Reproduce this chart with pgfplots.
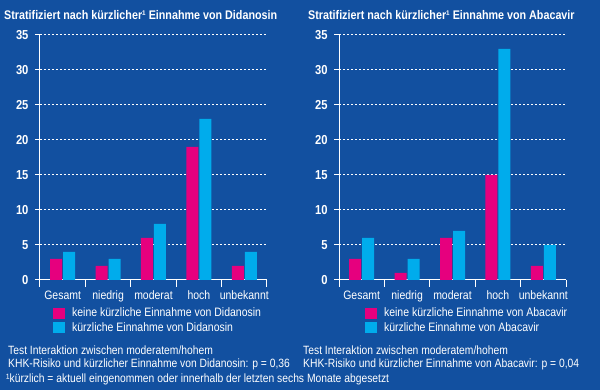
\documentclass[border=0pt]{standalone}
\usepackage{fontspec}
\setmainfont{Liberation Sans}[FakeStretch=0.86]
\usepackage{pgfplots}
\pgfplotsset{compat=1.18}
\definecolor{bg}{RGB}{18,80,160}
\definecolor{pinkc}{RGB}{230,0,126}
\definecolor{cyanc}{RGB}{0,172,236}
\newcommand{\lfont}{\fontsize{12.2}{13}\selectfont}
\newcommand{\ffont}{\fontsize{12}{13}\selectfont}
\pgfplotsset{
  panel/.style={
    scale only axis, width=227pt, height=245pt, anchor=south west,
    ymin=0, ymax=35, xmin=-0.5, xmax=4.5,
    axis x line*=bottom, axis y line*=left,
    axis line style={white, line width=1pt, -},
    ytick={0,5,...,35}, xtick={0,...,4},
    xticklabels={Gesamt,niedrig,moderat,hoch,unbekannt},
    minor xtick={-0.5,0.5,...,4.5},
    tick align=outside, major tick length=5pt, minor tick length=7pt,
    tick style={white, line width=1pt},
    major x tick style={draw=none},
    ymajorgrids, grid style={white, line width=1pt, dash pattern=on 1.6pt off 2.4pt},
    ticklabel style={text=white, font=\lfont},
    /pgf/number format/assume math mode=true,
    yticklabel style={font=\fontsize{13}{14}\selectfont\bfseries, xshift=-3pt},
    xticklabel style={yshift=-2pt},
    ybar, bar width=12pt,
    legend cell align=left,
    legend style={draw=none, fill=none, text=white, font=\lfont, row sep=0pt,
      anchor=north west, inner sep=0pt,
      /tikz/every odd column/.append style={column sep=5pt}},
  }
}
\begin{document}
\begin{tikzpicture}
\path[use as bounding box] (0,0) rectangle (600pt,390pt);
\fill[bg] (0,0) rectangle (600pt,390pt);
\node[anchor=base west, text=white, font=\fontsize{12.5}{14}\selectfont\bfseries, inner sep=0pt] at (4pt,370pt) {Stratifiziert nach kürzlicher¹ Einnahme von Didanosin};
\node[anchor=base west, text=white, font=\fontsize{12.5}{14}\selectfont\bfseries, inner sep=0pt] at (308pt,370pt) {Stratifiziert nach kürzlicher¹ Einnahme von Abacavir};
\begin{axis}[panel, at={(40pt,110pt)}, legend style={at={(0.057,-0.105)}}]
\addplot[fill=pinkc, draw=none, bar shift=-6.5pt, legend image code/.code={\fill[pinkc] (0pt,-5.5pt) rectangle (12pt,5.5pt);}] coordinates {(0,3) (1,2) (2,6) (3,19) (4,2)};
\addplot[fill=cyanc, draw=none, bar shift=6.5pt, legend image code/.code={\fill[cyanc] (0pt,-5.5pt) rectangle (12pt,5.5pt);}] coordinates {(0,4) (1,3) (2,8) (3,23) (4,4)};
\legend{keine kürzliche Einnahme von Didanosin, kürzliche Einnahme von Didanosin}
\end{axis}
\begin{axis}[panel, at={(339pt,110pt)}, legend style={at={(0.114,-0.105)}}]
\addplot[fill=pinkc, draw=none, bar shift=-6.5pt, legend image code/.code={\fill[pinkc] (0pt,-5.5pt) rectangle (12pt,5.5pt);}] coordinates {(0,3) (1,1) (2,6) (3,15) (4,2)};
\addplot[fill=cyanc, draw=none, bar shift=6.5pt, legend image code/.code={\fill[cyanc] (0pt,-5.5pt) rectangle (12pt,5.5pt);}] coordinates {(0,6) (1,3) (2,7) (3,33) (4,5)};
\legend{keine kürzliche Einnahme von Abacavir, kürzliche Einnahme von Abacavir}
\end{axis}
\begin{scope}[every node/.style={anchor=base west, text=white, font=\ffont, inner sep=0pt}]
\node at (8pt,35pt) {Test Interaktion zwischen moderatem/hohem};
\node at (8pt,22pt) {KHK-Risiko und kürzlicher Einnahme von Didanosin: p = 0,36};
\node at (303pt,35pt) {Test Interaktion zwischen moderatem/hohem};
\node at (303pt,22pt) {KHK-Risiko und kürzlicher Einnahme von Abacavir: p = 0,04};
\node at (6pt,7pt) {¹kürzlich = aktuell eingenommen oder innerhalb der letzten sechs Monate abgesetzt};
\end{scope}
\end{tikzpicture}
\end{document}
